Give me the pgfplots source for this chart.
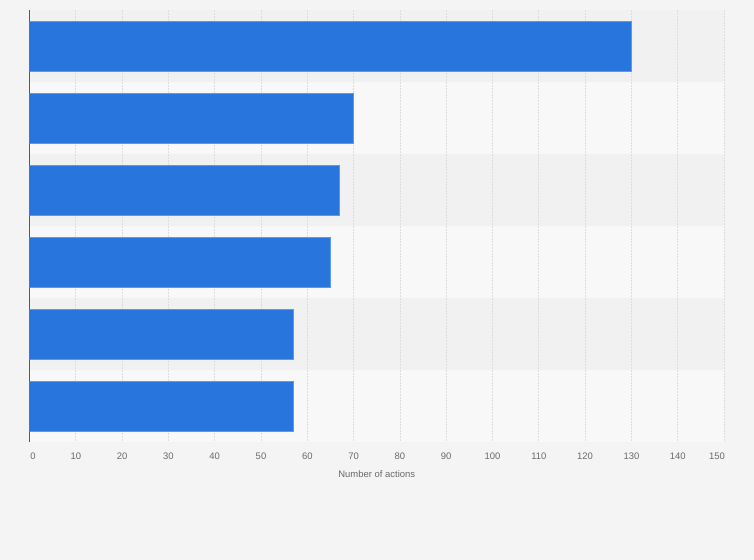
\documentclass[border=0pt]{standalone}
\usepackage{pgfplots}
\pgfplotsset{compat=1.18}
\usepackage{fontspec}
\setmainfont{Liberation Sans}
\definecolor{bg}{HTML}{F4F4F4}
\definecolor{bandA}{HTML}{F1F1F1}
\definecolor{bandB}{HTML}{F8F8F8}
\definecolor{barblue}{HTML}{2876DD}
\definecolor{baredge}{HTML}{5A9AE6}
\definecolor{gridgray}{HTML}{DDDDDD}
\definecolor{ticktext}{HTML}{6A6A6A}
\pagecolor{bg}
\pgfplotsset{
  layers/barsunder/.define layer set={axis background,axis grid,axis ticks,main,axis lines,axis tick labels,axis descriptions,axis foreground}{},
}
\begin{document}
\begin{tikzpicture}
\begin{axis}[
    set layers=barsunder,
    at={(29.5bp,118bp)}, anchor=south west,
    scale only axis, width=694.5bp, height=432bp,
    xmin=0, xmax=150, ymin=-0.5, ymax=5.5, y dir=reverse,
    xtick distance=10, ytick=\empty,
    axis y line*=left, axis x line*=bottom,
    x axis line style={draw=none},
    y axis line style={draw=black!65, line width=1.2bp, -},
    xtick style={draw=none},
    xmajorgrids,
    grid style={gridgray, dash pattern=on 2bp off 1bp, line width=0.8bp},
    /pgf/number format/assume math mode=true,
    xticklabel={\pgfmathtruncatemacro\tk{\tick<1 ? 1 : (\tick>149 ? 2 : 0)}%
        \ifcase\tk\pgfmathprintnumber{\tick}%
        \or\hspace*{7bp}\pgfmathprintnumber{\tick}%
        \or\pgfmathprintnumber{\tick}\hspace*{14bp}\fi},
    xticklabel style={font=\fontsize{9.5}{11}\selectfont, text=ticktext, yshift=-7.5bp},
    xlabel={Number of actions},
    xlabel style={font=\fontsize{9.5}{11}\selectfont, text=ticktext, yshift=-4.5bp},
]
\begin{pgfonlayer}{axis background}
    \fill[bandA] (axis cs:0,-0.5) rectangle (axis cs:150,0.5);
    \fill[bandB] (axis cs:0,0.5) rectangle (axis cs:150,1.5);
    \fill[bandA] (axis cs:0,1.5) rectangle (axis cs:150,2.5);
    \fill[bandB] (axis cs:0,2.5) rectangle (axis cs:150,3.5);
    \fill[bandA] (axis cs:0,3.5) rectangle (axis cs:150,4.5);
    \fill[bandB] (axis cs:0,4.5) rectangle (axis cs:150,5.5);
\end{pgfonlayer}
\addplot[xbar, bar width=0.694, fill=barblue, draw=baredge, line width=0.6bp]
    coordinates {(130,0) (70,1) (67,2) (65,3) (57,4) (57,5)};
\end{axis}
\pgfresetboundingbox
\path[use as bounding box] (0,0) rectangle (754bp,560bp);
\end{tikzpicture}
\end{document}
